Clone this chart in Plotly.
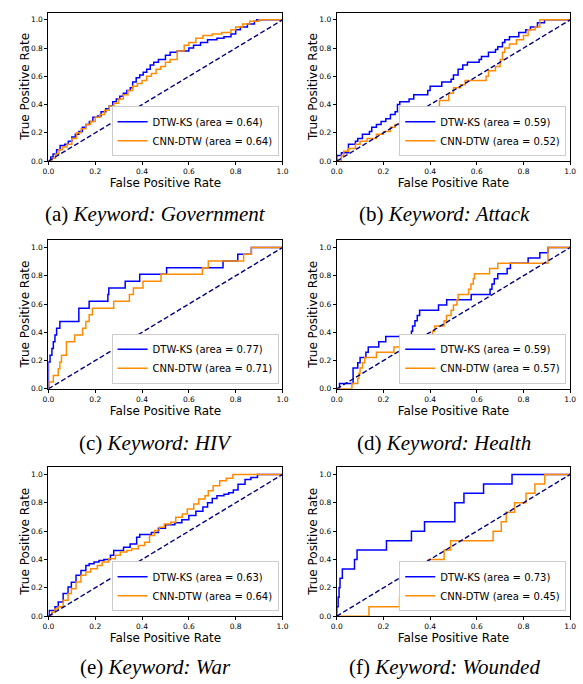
import plotly.graph_objects as go

# ---------------- data ----------------
a_dtw_fpr = [0, 0.01, 0.02, 0.035, 0.05, 0.07, 0.085, 0.1, 0.115, 0.13, 0.145, 0.16, 0.175, 0.19, 0.21, 0.225, 0.245, 0.26, 0.275, 0.29, 0.305, 0.32, 0.335, 0.35, 0.36, 0.375, 0.39, 0.405, 0.42, 0.435, 0.45, 0.47, 0.5, 0.52, 0.55, 0.6, 0.62, 0.65, 0.68, 0.72, 0.75, 0.78, 0.8, 0.82, 0.85, 0.88, 0.89, 1.0]
a_dtw_tpr = [0, 0.03, 0.05, 0.08, 0.11, 0.12, 0.14, 0.17, 0.19, 0.21, 0.24, 0.26, 0.28, 0.31, 0.32, 0.35, 0.37, 0.39, 0.42, 0.44, 0.46, 0.48, 0.5, 0.52, 0.56, 0.59, 0.61, 0.63, 0.65, 0.68, 0.70, 0.72, 0.75, 0.77, 0.78, 0.80, 0.82, 0.84, 0.86, 0.87, 0.88, 0.90, 0.93, 0.95, 0.97, 0.99, 1.0, 1.0]
a_cnn_fpr = [0, 0.015, 0.03, 0.045, 0.06, 0.08, 0.1, 0.12, 0.14, 0.16, 0.18, 0.2, 0.22, 0.24, 0.26, 0.28, 0.3, 0.32, 0.34, 0.36, 0.38, 0.4, 0.42, 0.44, 0.46, 0.48, 0.5, 0.52, 0.55, 0.58, 0.6, 0.63, 0.66, 0.7, 0.74, 0.78, 0.8, 0.83, 0.86, 0.9, 1.0]
a_cnn_tpr = [0, 0.02, 0.05, 0.08, 0.1, 0.12, 0.16, 0.2, 0.23, 0.26, 0.28, 0.31, 0.33, 0.36, 0.39, 0.41, 0.44, 0.47, 0.5, 0.53, 0.55, 0.57, 0.6, 0.62, 0.65, 0.67, 0.70, 0.72, 0.78, 0.82, 0.84, 0.87, 0.89, 0.90, 0.91, 0.93, 0.95, 0.97, 0.99, 1.0, 1.0]

b_dtw_fpr = [0, 0, 0.02, 0.05, 0.08, 0.09, 0.11, 0.14, 0.15, 0.17, 0.19, 0.21, 0.23, 0.25, 0.26, 0.27, 0.31, 0.33, 0.39, 0.40, 0.45, 0.49, 0.50, 0.52, 0.54, 0.56, 0.61, 0.62, 0.65, 0.68, 0.69, 0.71, 0.72, 0.74, 0.78, 0.81, 0.83, 0.86, 0.89, 1.0]
b_dtw_tpr = [0, 0.04, 0.06, 0.12, 0.14, 0.16, 0.19, 0.21, 0.24, 0.26, 0.28, 0.30, 0.33, 0.35, 0.40, 0.42, 0.44, 0.47, 0.50, 0.53, 0.56, 0.58, 0.61, 0.65, 0.68, 0.70, 0.72, 0.74, 0.77, 0.79, 0.81, 0.84, 0.86, 0.88, 0.91, 0.93, 0.95, 0.98, 1.0, 1.0]
b_cnn_fpr = [0, 0.02, 0.03, 0.05, 0.08, 0.1, 0.13, 0.17, 0.2, 0.23, 0.25, 0.27, 0.28, 0.35, 0.41, 0.44, 0.48, 0.5, 0.53, 0.55, 0.64, 0.65, 0.68, 0.7, 0.71, 0.72, 0.74, 0.77, 0.8, 0.82, 0.85, 0.87, 1.0]
b_cnn_tpr = [0, 0.04, 0.07, 0.09, 0.12, 0.14, 0.16, 0.19, 0.21, 0.24, 0.26, 0.29, 0.31, 0.33, 0.38, 0.43, 0.48, 0.52, 0.54, 0.57, 0.60, 0.64, 0.67, 0.72, 0.77, 0.80, 0.83, 0.86, 0.89, 0.93, 0.95, 1.0, 1.0]

c_dtw_fpr = [0, 0.0, 0.007, 0.015, 0.021, 0.028, 0.035, 0.049, 0.07, 0.13, 0.174, 0.254, 0.258, 0.328, 0.39, 0.505, 0.746, 0.809, 0.867, 1.0]
c_dtw_tpr = [0, 0.19, 0.238, 0.286, 0.333, 0.381, 0.429, 0.476, 0.476, 0.571, 0.619, 0.667, 0.714, 0.762, 0.81, 0.857, 0.905, 0.952, 1.0, 1.0]
c_cnn_fpr = [0, 0.003, 0.021, 0.042, 0.049, 0.056, 0.077, 0.112, 0.146, 0.16, 0.174, 0.188, 0.279, 0.346, 0.363, 0.404, 0.481, 0.658, 0.683, 0.834, 0.867, 1.0]
c_cnn_tpr = [0, 0.048, 0.095, 0.143, 0.19, 0.238, 0.333, 0.381, 0.429, 0.476, 0.524, 0.571, 0.619, 0.667, 0.714, 0.762, 0.81, 0.857, 0.905, 0.952, 1.0, 1.0]

d_dtw_fpr = [0, 0.012, 0.07, 0.09, 0.1, 0.125, 0.135, 0.18, 0.21, 0.32, 0.325, 0.335, 0.345, 0.355, 0.436, 0.471, 0.576, 0.657, 0.665, 0.675, 0.69, 0.73, 0.744, 0.82, 0.87, 0.905, 1.0]
d_dtw_tpr = [0, 0.037, 0.148, 0.185, 0.222, 0.259, 0.296, 0.333, 0.37, 0.407, 0.444, 0.481, 0.519, 0.556, 0.593, 0.63, 0.667, 0.704, 0.741, 0.778, 0.815, 0.852, 0.889, 0.926, 0.963, 1.0, 1.0]
d_cnn_fpr = [0, 0.065, 0.09, 0.095, 0.1, 0.11, 0.12, 0.17, 0.245, 0.325, 0.35, 0.41, 0.42, 0.46, 0.47, 0.49, 0.5, 0.515, 0.52, 0.565, 0.575, 0.585, 0.59, 0.655, 0.69, 0.905, 1.0]
d_cnn_tpr = [0, 0.037, 0.074, 0.111, 0.148, 0.185, 0.222, 0.259, 0.296, 0.333, 0.37, 0.407, 0.444, 0.481, 0.519, 0.556, 0.593, 0.63, 0.667, 0.704, 0.741, 0.778, 0.815, 0.852, 0.889, 1.0, 1.0]

e_dtw_fpr = [0, 0.003, 0.028, 0.042, 0.063, 0.084, 0.098, 0.118, 0.139, 0.16, 0.174, 0.195, 0.216, 0.237, 0.265, 0.279, 0.321, 0.349, 0.377, 0.39, 0.44, 0.47, 0.5, 0.54, 0.57, 0.6, 0.63, 0.66, 0.68, 0.70, 0.72, 0.75, 0.77, 0.79, 0.81, 0.84, 0.865, 0.893, 1.0]
e_dtw_tpr = [0, 0.04, 0.066, 0.1, 0.16, 0.206, 0.24, 0.288, 0.323, 0.358, 0.37, 0.382, 0.393, 0.4, 0.43, 0.464, 0.487, 0.51, 0.557, 0.576, 0.59, 0.62, 0.645, 0.66, 0.68, 0.71, 0.74, 0.77, 0.80, 0.83, 0.85, 0.86, 0.87, 0.89, 0.93, 0.965, 0.979, 1.0, 1.0]
e_cnn_fpr = [0, 0.014, 0.028, 0.042, 0.063, 0.084, 0.098, 0.118, 0.139, 0.16, 0.181, 0.209, 0.23, 0.258, 0.286, 0.307, 0.335, 0.356, 0.384, 0.411, 0.432, 0.453, 0.474, 0.495, 0.523, 0.544, 0.572, 0.593, 0.621, 0.642, 0.669, 0.683, 0.704, 0.732, 0.76, 0.788, 1.0]
e_cnn_tpr = [0, 0.03, 0.05, 0.066, 0.112, 0.16, 0.194, 0.241, 0.288, 0.311, 0.335, 0.358, 0.382, 0.405, 0.429, 0.452, 0.464, 0.475, 0.499, 0.522, 0.569, 0.604, 0.628, 0.651, 0.663, 0.698, 0.721, 0.756, 0.792, 0.827, 0.85, 0.885, 0.92, 0.955, 0.974, 1.0, 1.0]

f_dtw_fpr = [0, 0.0, 0.006, 0.01, 0.014, 0.024, 0.076, 0.087, 0.213, 0.32, 0.376, 0.506, 0.545, 0.629, 0.751, 1.0]
f_dtw_tpr = [0, 0.067, 0.133, 0.2, 0.267, 0.333, 0.4, 0.467, 0.533, 0.6, 0.667, 0.8, 0.867, 0.933, 1.0, 1.0]
f_cnn_fpr = [0, 0.138, 0.269, 0.28, 0.35, 0.37, 0.392, 0.46, 0.488, 0.67, 0.705, 0.726, 0.762, 0.811, 0.849, 0.891, 1.0]
f_cnn_tpr = [0, 0.067, 0.133, 0.2, 0.267, 0.333, 0.4, 0.467, 0.533, 0.6, 0.667, 0.733, 0.8, 0.867, 0.933, 1.0, 1.0]

dtw_auc = ["0.64", "0.59", "0.77", "0.59", "0.63", "0.73"]
cnn_auc = ["0.64", "0.52", "0.71", "0.57", "0.64", "0.45"]
letters = ["(a)", "(b)", "(c)", "(d)", "(e)", "(f)"]
keywords = ["Government", "Attack", "HIV", "Health", "War", "Wounded"]
chance = [0, 1]
tick_vals = [0.0, 0.2, 0.4, 0.6, 0.8, 1.0]
tick_text = ["0.0", "0.2", "0.4", "0.6", "0.8", "1.0"]

panels = [
    (a_dtw_fpr, a_dtw_tpr, a_cnn_fpr, a_cnn_tpr),
    (b_dtw_fpr, b_dtw_tpr, b_cnn_fpr, b_cnn_tpr),
    (c_dtw_fpr, c_dtw_tpr, c_cnn_fpr, c_cnn_tpr),
    (d_dtw_fpr, d_dtw_tpr, d_cnn_fpr, d_cnn_tpr),
    (e_dtw_fpr, e_dtw_tpr, e_cnn_fpr, e_cnn_tpr),
    (f_dtw_fpr, f_dtw_tpr, f_cnn_fpr, f_cnn_tpr),
]

# ---------------- layout geometry (pixels) ----------------
W, H = 583, 684
col_x = [(43.3, 282.3), (337.7, 576.0)]
row_y = [(12.9, 162.3), (242.2, 391.7), (470.8, 620.7)]  # top(y=1.05), bottom(y=0)
caption_y = [216, 446, 672]
caption_x = [153, 447.5]
ylabel_x = [19.3, 313.5]

SANS = "DejaVu Sans"
fig = go.Figure()
layout = dict(
    width=W, height=H, margin=dict(l=0, r=0, t=0, b=0),
    paper_bgcolor="white", plot_bgcolor="white", showlegend=True,
    font=dict(family=SANS, color="black"),
)
annotations = []

for i, (dx, dy, cx, cy) in enumerate(panels):
    r, c = divmod(i, 2)
    sfx = "" if i == 0 else str(i + 1)
    xa, ya = "x" + sfx, "y" + sfx
    leg = "legend" + sfx
    fig.add_trace(go.Scatter(x=dx, y=dy, mode="lines", line=dict(color="#0000ff", width=1.5, shape="hv"),
                             name=f"DTW-KS (area = {dtw_auc[i]})", xaxis=xa, yaxis=ya, legend=leg))
    fig.add_trace(go.Scatter(x=cx, y=cy, mode="lines", line=dict(color="#ff8c00", width=1.5, shape="hv"),
                             name=f"CNN-DTW (area = {cnn_auc[i]})", xaxis=xa, yaxis=ya, legend=leg))
    fig.add_trace(go.Scatter(x=chance, y=chance, mode="lines",
                             line=dict(color="#000080", width=1.4, dash="5px,2.5px"),
                             showlegend=False, xaxis=xa, yaxis=ya, hoverinfo="skip"))
    x0, x1 = col_x[c]
    yt, yb = row_y[r]
    axis_common = dict(
        showline=True, mirror=True, linecolor="black", linewidth=1,
        ticks="outside", ticklen=3, tickwidth=1, tickcolor="black",
        tickvals=tick_vals, ticktext=tick_text, tickfont=dict(size=7.5, family=SANS),
        showgrid=False, zeroline=False, fixedrange=True,
    )
    layout["xaxis" + sfx] = dict(
        axis_common, domain=[x0 / W, x1 / W], range=[0, 1], anchor=ya,
        title=dict(text="False Positive Rate", font=dict(size=12, family=SANS), standoff=1),
    )
    layout["yaxis" + sfx] = dict(
        axis_common, domain=[1 - yb / H, 1 - yt / H], range=[0, 1.05], anchor=xa,
    )
    layout[leg] = dict(
        x=(x1 - 4) / W, y=1 - (yb - 5) / H, xanchor="right", yanchor="bottom",
        bgcolor="white", bordercolor="#cccccc", borderwidth=1,
        font=dict(size=10, family=SANS), itemwidth=30, tracegroupgap=0,
    )
    annotations.append(dict(
        text="True Positive Rate", textangle=-90, xref="paper", yref="paper",
        x=ylabel_x[c] / W, y=1 - ((yt + yb) / 2) / H, xanchor="center", yanchor="middle",
        showarrow=False, font=dict(size=12, family=SANS),
    ))
    annotations.append(dict(
        text=f"{letters[i]} <i>Keyword: {keywords[i]}</i>", xref="paper", yref="paper",
        x=caption_x[c] / W, y=1 - caption_y[r] / H, xanchor="center", yanchor="middle",
        showarrow=False, font=dict(size=21, family="Liberation Serif"),
    ))

layout["annotations"] = annotations
fig.update_layout(**layout)
fig.write_html("out.html", config={"displayModeBar": False},
               post_script="document.body.style.margin='0';document.body.style.overflow='hidden';")
